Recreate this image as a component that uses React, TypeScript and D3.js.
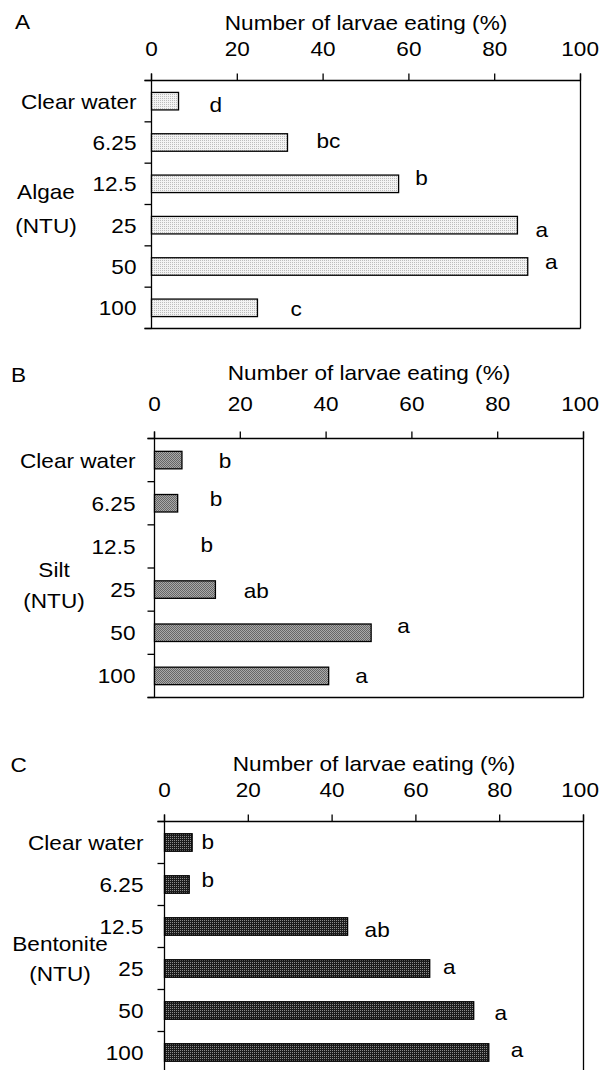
import React from "react";
import * as d3 from "d3";

// Turbidity levels on the y axis (NTU)
const categories = ["Clear water", "6.25", "12.5", "25", "50", "100"];
const xTicks = [0, 20, 40, 60, 80, 100];

// Percentage of larvae eating, per turbidity source
const algaeValues = [6.3, 31.7, 57.6, 85.3, 87.7, 24.7];
const algaeLetters = ["d", "bc", "b", "a", "a", "c"];

const siltValues = [6.4, 5.4, 0, 14.2, 50.5, 40.6];
const siltLetters = ["b", "b", "b", "ab", "a", "a"];

const bentoniteValues = [6.6, 5.9, 43.7, 63.3, 73.8, 77.4];
const bentoniteLetters = ["b", "b", "ab", "a", "a", "a"];

const axisTitle = "Number of larvae eating (%)";

const FONT = "'Liberation Sans', Arial, Helvetica, sans-serif";
const FS = 20;
const SX = 1.13; // horizontal stretch of all lettering
const DIGIT_W = 0.556 * FS * SX;
const PAGE_W = 600;

// Panel layout (pixels)
const panels = [
  {
    key: "A", values: algaeValues, letters: algaeLetters, fill: "url(#dotsLight)",
    group: ["Algae", "(NTU)"], groupX: 46, groupY: [199, 233],
    x0: 151.5, x1: 580.5, top: 80.5, bottom: 328.5,
    keyX: 15, keyY: 29, titleY: 30, tickY: 56, labelGap: 15, closed: true,
    nudge: [[31, 10.4], [29, 5.7], [16.6, 1], [18, 11.5], [17.3, 2.8], [33, 8.2]],
  },
  {
    key: "B", values: siltValues, letters: siltLetters, fill: "url(#dotsMid)",
    group: ["Silt", "(NTU)"], groupX: 54, groupY: [576.5, 607.6],
    x0: 154.5, x1: 583.5, top: 438.5, bottom: 697.5,
    keyX: 11, keyY: 381.5, titleY: 380, tickY: 411, labelGap: 19, closed: true,
    nudge: [[36.8, 8], [32, 3], [46, 5.5], [28.3, 8.6], [26, 0.5], [26.7, 7]],
  },
  {
    key: "C", values: bentoniteValues, letters: bentoniteLetters, fill: "url(#dotsDark)",
    group: ["Bentonite", "(NTU)"], groupX: 60, groupY: [951, 981],
    x0: 164.5, x1: 583.5, top: 821.5, bottom: 1073.5,
    keyX: 10.5, keyY: 772, titleY: 771, tickY: 797, labelGap: 21, closed: true,
    nudge: [[9.4, 6.6], [12.4, 2], [17, 10], [13.3, 5.3], [20.8, 9.3], [22, 4]],
  },
];

function Txt({ x, y, anchor = "start", children }: any) {
  return (
    <text
      transform={`translate(${x},${y}) scale(${SX},1)`}
      textAnchor={anchor}
      fontFamily={FONT}
      fontSize={FS}
      fill="#000"
    >
      {children}
    </text>
  );
}

const TICK = 7;
const BAR_H = 17.5;

function Panel({ cfg }: any) {
  const x = d3.scaleLinear().domain([0, 100]).range([cfg.x0, cfg.x1]);
  const y = d3.scaleBand<string>().domain(categories).range([cfg.top, cfg.bottom]).padding(0);
  const edges = d3.range(categories.length + 1).map((i) => cfg.top + i * y.step());
  const mid = (c: string) => (y(c) as number) + y.bandwidth() / 2;
  const line = { stroke: "#000", strokeWidth: 1.3 };
  // keep tick numbers inside the page
  const tickLabelX = (t: number) => {
    const half = (String(t).length * DIGIT_W) / 2;
    return Math.min(x(t), PAGE_W - half - 1);
  };

  return (
    <g>
      <Txt x={cfg.keyX} y={cfg.keyY}>{cfg.key}</Txt>
      <Txt x={(cfg.x0 + cfg.x1) / 2} y={cfg.titleY} anchor="middle">{axisTitle}</Txt>
      {xTicks.map((t) => (
        <g key={t}>
          <Txt x={tickLabelX(t)} y={cfg.tickY} anchor="middle">{t}</Txt>
          <line x1={x(t)} x2={x(t)} y1={cfg.top - TICK} y2={cfg.top} {...line} />
        </g>
      ))}

      {/* plot frame */}
      <line x1={cfg.x0 - TICK} x2={cfg.x1} y1={cfg.top} y2={cfg.top} {...line} />
      <line x1={cfg.x0} x2={cfg.x0} y1={cfg.top - TICK} y2={cfg.bottom} {...line} />
      <line x1={cfg.x1} x2={cfg.x1} y1={cfg.top - TICK} y2={cfg.bottom} {...line} />
      {cfg.closed && <line x1={cfg.x0 - TICK} x2={cfg.x1} y1={cfg.bottom} y2={cfg.bottom} {...line} />}
      {edges.map((e, i) => (
        <line key={i} x1={cfg.x0 - TICK} x2={cfg.x0} y1={e} y2={e} {...line} />
      ))}

      {/* category labels */}
      {categories.map((c) => (
        <Txt key={c} x={cfg.x0 - cfg.labelGap} y={mid(c) + 7.5} anchor="end">{c}</Txt>
      ))}
      {cfg.group.map((g: string, i: number) => (
        <Txt key={g} x={cfg.groupX} y={cfg.groupY[i]} anchor="middle">{g}</Txt>
      ))}

      {/* bars */}
      {categories.map((c, i) =>
        cfg.values[i] > 0 ? (
          <rect
            key={c}
            x={x(0)}
            y={mid(c) - BAR_H / 2}
            width={x(cfg.values[i]) - x(0)}
            height={BAR_H}
            fill={cfg.fill}
            stroke="#000"
            strokeWidth={1.3}
          />
        ) : null
      )}

      {/* significance letters */}
      {categories.map((c, i) => (
        <Txt key={c} x={x(cfg.values[i]) + cfg.nudge[i][0]} y={mid(c) + cfg.nudge[i][1]}>
          {cfg.letters[i]}
        </Txt>
      ))}
    </g>
  );
}

export default function App() {
  return (
    <svg
      width={600}
      height={1070}
      style={{ position: "absolute", left: 0, top: 0, display: "block", background: "#fff" }}
    >
      <defs>
        <pattern id="dotsLight" width={2} height={2} patternUnits="userSpaceOnUse">
          <rect width={2} height={2} fill="#f3f3f3" />
          <rect width={1} height={1} fill="#bcbcbc" />
        </pattern>
        <pattern id="dotsMid" width={2} height={2} patternUnits="userSpaceOnUse">
          <rect width={2} height={2} fill="#a9a9a9" />
          <rect width={1} height={1} fill="#666" />
          <rect x={1} y={1} width={1} height={1} fill="#666" />
        </pattern>
        <pattern id="dotsDark" width={2} height={2} patternUnits="userSpaceOnUse">
          <rect width={2} height={2} fill="#1c1c1c" />
          <rect width={1} height={1} fill="#8c8c8c" />
        </pattern>
      </defs>
      <rect width={600} height={1070} fill="#fff" />
      {panels.map((p) => (
        <Panel key={p.key} cfg={p} />
      ))}
    </svg>
  );
}
